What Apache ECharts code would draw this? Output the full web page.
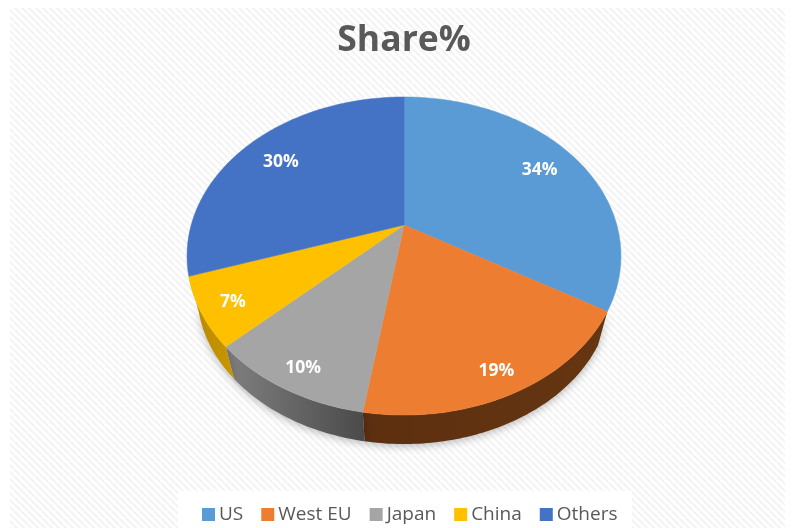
<!DOCTYPE html>
<html><head><meta charset="utf-8">
<style>html,body{margin:0;padding:0;background:#fff}#c{width:794px;height:528px}</style>
<script src="https://cdn.jsdelivr.net/npm/echarts@6/dist/echarts.min.js"></script>
</head><body><div id="c"></div>
<script>
// ---- data ----
const categories = ['US', 'West EU', 'Japan', 'China', 'Others'];
const shares = [33.5, 19.0, 10.4, 7.0, 30.1];

// ---- style ----
const topColors = ['#5B9BD5', '#ED7D31', '#A5A5A5', '#FFC000', '#4472C4'];
const sideColors = [
  null,
  ['#5c2f10', '#663611'],
  ['#808080', '#4a4a4a'],
  ['#b88a00', '#c89600'],
  null
];
const labelReach = [0.72, 1.0, 1.0, 0.92, 0.70];

// perspective projection of the pie disc
const CX = 404, APEX_Y = 225, A = 212.8, B = 153, K = 0.195;
const DEPTH_SCALE = 0.954, DEPTH_APEX_Y = 262.7;

function project(theta, r, lower) {
  const u = r * Math.sin(theta), v = r * Math.cos(theta), w = 1 + K * v;
  const s = lower ? DEPTH_SCALE : 1;
  return [CX + s * A * u / w, (lower ? DEPTH_APEX_Y : APEX_Y) - s * B * v / w];
}
const total = shares.reduce((a, b) => a + b, 0);
const toAngle = p => p / total * 2 * Math.PI;

function makeRenderer(i) {
  return function (params, api) {
    const start = toAngle(api.value(0));
    const end = toAngle(api.value(0) + api.value(1));
    const steps = Math.max(4, Math.ceil((end - start) * 60));
    const rimTop = [], rimLow = [];
    for (let k = 0; k <= steps; k++) {
      const t = start + (end - start) * k / steps;
      rimTop.push(project(t, 1, false));
      rimLow.push(project(t, 1, true));
    }
    const mid = (start + end) / 2;
    const f = labelReach[i];
    const children = [];
    if (sideColors[i]) {
      children.push({
        type: 'polygon', z2: 1,
        shape: { points: rimTop.concat(rimLow.slice().reverse()) },
        style: {
          fill: new echarts.graphic.LinearGradient(0, 0, 1, 0, [
            { offset: 0, color: sideColors[i][0] },
            { offset: 1, color: sideColors[i][1] }
          ]),
          shadowBlur: 8, shadowColor: 'rgba(0,0,0,0.28)', shadowOffsetY: 2
        }
      });
    }
    children.push({
      type: 'polygon', z2: 10,
      shape: { points: [project(0, 0, false)].concat(rimTop) },
      style: { fill: topColors[i], stroke: topColors[i], lineWidth: 0.5 }
    });
    children.push({
      type: 'text', z2: 20,
      x: CX + 217 * f * Math.sin(mid),
      y: APEX_Y + 2 - 159 * f * Math.cos(mid),
      style: {
        text: Math.round(api.value(1)) + '%',
        fill: '#fff', align: 'center', verticalAlign: 'middle',
        font: 'bold 17.5px "Open Sans", sans-serif'
      }
    });
    return { type: 'group', children };
  };
}

let running = 0;
const series = categories.map((name, i) => {
  const s = {
    type: 'custom', name, coordinateSystem: 'none',
    renderItem: makeRenderer(i), silent: true, animation: false,
    itemStyle: { color: topColors[i] },
    data: [[running, shares[i]]]
  };
  running += shares[i];
  return s;
});

// faint diagonal hatch of the chart panel
const tile = document.createElement('canvas');
tile.width = tile.height = 7;
const g = tile.getContext('2d');
g.fillStyle = '#ffffff'; g.fillRect(0, 0, 7, 7);
g.strokeStyle = '#f3f3f3'; g.lineWidth = 2.2;
for (const o of [-7, 0, 7]) { g.beginPath(); g.moveTo(o, 0); g.lineTo(o + 7, 7); g.stroke(); }

const chart = echarts.init(document.getElementById('c'), null, { renderer: 'canvas' });
chart.setOption({
  animation: false,
  backgroundColor: '#ffffff',
  title: {
    text: 'Share%', left: 399, top: 18, textAlign: 'center',
    textStyle: { fontFamily: '"Open Sans", sans-serif', fontWeight: 'bold', fontSize: 35.5, color: '#595959' }
  },
  legend: {
    left: 197, top: 500, icon: 'rect', itemWidth: 13, itemHeight: 13, itemGap: 18,
    selectedMode: false,
    textStyle: { fontFamily: '"Open Sans", sans-serif', fontSize: 19, color: '#595959', padding: [0, 0, 0, -1] },
    data: categories
  },
  graphic: [
    { type: 'rect', z: -2, silent: true, shape: { x: 10, y: 8, width: 775, height: 520 },
      style: { fill: { image: tile, repeat: 'repeat' } } },
    { type: 'rect', z: -1, silent: true, shape: { x: 178, y: 491, width: 454, height: 37 },
      style: { fill: '#ffffff' } }
  ],
  series
});
</script></body></html>
